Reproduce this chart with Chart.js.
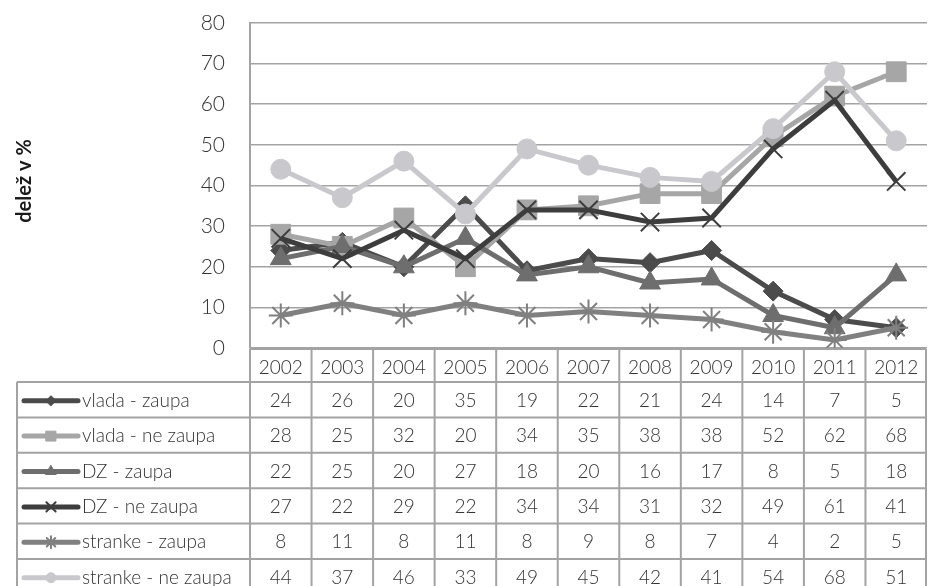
<!DOCTYPE html>
<html lang="sl">
<head>
    <meta charset="UTF-8">
    <title>Zaupanje v institucije 2002-2012</title>
    <script src="https://cdn.jsdelivr.net/npm/chart.js@4"></script>
    <style>
        body {
            margin: 0;
            background: #ffffff;
        }
        .wrap {
            width: 942px;
            height: 586px;
        }
    </style>
</head>
<body>
    <div class="wrap">
        <canvas id="trustChart" width="942" height="586"></canvas>
    </div>

    <script>
        // leta in vrednosti (delež v %)
        const years = ['2002', '2003', '2004', '2005', '2006', '2007', '2008', '2009', '2010', '2011', '2012'];

        const vladaZaupa     = [24, 26, 20, 35, 19, 22, 21, 24, 14, 7, 5];
        const vladaNeZaupa   = [28, 25, 32, 20, 34, 35, 38, 38, 52, 62, 68];
        const dzZaupa        = [22, 25, 20, 27, 18, 20, 16, 17, 8, 5, 18];
        const dzNeZaupa      = [27, 22, 29, 22, 34, 34, 31, 32, 49, 61, 41];
        const strankeZaupa   = [8, 11, 8, 11, 8, 9, 8, 7, 4, 2, 5];
        const strankeNeZaupa = [44, 37, 46, 33, 49, 45, 42, 41, 54, 68, 51];

        const yTicks = [0, 10, 20, 30, 40, 50, 60, 70, 80];

        const FONT = "'Lato', 'Open Sans', sans-serif";
        const GRID = '#a3a3a3';

        const series = [
            { label: 'vlada - zaupa',      data: vladaZaupa,     color: '#4b4b4b', style: 'rectRot',  r: 10, bw: 1 },
            { label: 'vlada - ne zaupa',   data: vladaNeZaupa,   color: '#a6a6a6', style: 'rect',     r: 14, bw: 1 },
            { label: 'DZ - zaupa',         data: dzZaupa,        color: '#6e6e6e', style: 'triangle', r: 12, bw: 1 },
            { label: 'DZ - ne zaupa',      data: dzNeZaupa,      color: '#3d3d3d', style: 'crossRot', r: 13, bw: 2 },
            { label: 'stranke - zaupa',    data: strankeZaupa,   color: '#808080', style: 'star',     r: 12, bw: 2 },
            { label: 'stranke - ne zaupa', data: strankeNeZaupa, color: '#c9c9cd', style: 'circle',   r: 10, bw: 1 }
        ];

        // tabela s podatki pod grafom + naslov osi y
        const dataTable = {
            id: 'dataTable',
            afterDraw(chart) {
                const ctx = chart.ctx;
                const area = chart.chartArea;
                const x = chart.scales.x;
                const step = x.getPixelForValue(1) - x.getPixelForValue(0);
                const tLeft = 17;
                const top = area.bottom + 1;
                const headH = 33;
                const rowH = 35.4;
                const right = area.right - 1;
                const nRows = series.length;
                const bottom = top + headH + nRows * rowH;

                ctx.save();
                ctx.strokeStyle = GRID;
                ctx.lineWidth = 2;

                // vodoravne črte
                ctx.beginPath();
                ctx.moveTo(area.left, top);
                ctx.lineTo(right, top);
                for (let i = 0; i <= nRows; i++) {
                    const y = top + headH + i * rowH;
                    ctx.moveTo(tLeft, y);
                    ctx.lineTo(right, y);
                }
                // navpične črte
                ctx.moveTo(tLeft, top + headH);
                ctx.lineTo(tLeft, bottom);
                for (let i = 0; i <= years.length; i++) {
                    const cx = Math.min(x.getPixelForValue(i) - step / 2, right);
                    ctx.moveTo(cx, top);
                    ctx.lineTo(cx, bottom);
                }
                ctx.stroke();

                ctx.fillStyle = '#333333';
                ctx.font = '300 19px ' + FONT;
                ctx.textAlign = 'center';
                ctx.textBaseline = 'middle';
                years.forEach((yr, i) => {
                    ctx.fillText(yr, x.getPixelForValue(i), top + headH / 2 + 2);
                });

                series.forEach((s, r) => {
                    const cy = top + headH + r * rowH + rowH / 2 + 1;
                    s.data.forEach((v, i) => {
                        ctx.fillText(String(v), x.getPixelForValue(i), cy);
                    });

                    // vzorec črte z oznako
                    ctx.strokeStyle = s.color;
                    ctx.lineWidth = 5;
                    ctx.lineCap = 'round';
                    ctx.beginPath();
                    ctx.moveTo(24, cy);
                    ctx.lineTo(78, cy);
                    ctx.stroke();
                    ctx.fillStyle = s.color;
                    ctx.lineWidth = s.bw;
                    Chart.helpers.drawPoint(ctx, { pointStyle: s.style, radius: s.r * 0.5, rotation: 0, borderWidth: s.bw }, 51, cy);

                    ctx.fillStyle = '#333333';
                    ctx.textAlign = 'left';
                    ctx.fillText(s.label, 82, cy);
                    ctx.textAlign = 'center';
                });

                // naslov osi
                ctx.translate(25, 181);
                ctx.rotate(-Math.PI / 2);
                ctx.font = 'bold 20px ' + FONT;
                ctx.fillStyle = '#1a1a1a';
                ctx.fillText('delež v %', 0, 0);
                ctx.restore();
            }
        };

        const ctx = document.getElementById('trustChart').getContext('2d');
        new Chart(ctx, {
            type: 'line',
            data: {
                labels: years,
                datasets: series.map((s, i) => ({
                    label: s.label,
                    data: s.data,
                    borderColor: s.color,
                    backgroundColor: s.color,
                    borderWidth: 5,
                    tension: 0,
                    pointStyle: s.style,
                    pointRadius: s.r,
                    pointBorderWidth: s.bw,
                    pointBackgroundColor: s.color,
                    pointBorderColor: s.color,
                    order: series.length - i
                }))
            },
            options: {
                responsive: false,
                animation: false,
                layout: {
                    padding: { top: 23, right: 0, left: 0, bottom: 238 }
                },
                plugins: {
                    legend: { display: false },
                    tooltip: { enabled: false }
                },
                scales: {
                    x: {
                        display: false,
                        offset: true
                    },
                    y: {
                        min: 0,
                        max: 80,
                        afterFit(scale) { scale.width = 250; },
                        afterBuildTicks(scale) { scale.ticks = yTicks.map(v => ({ value: v })); },
                        // nevidne oznake dajo razmik med številkami in osjo
                        grid: { color: GRID, lineWidth: 1.6, drawTicks: true, tickLength: 25, tickColor: 'rgba(0,0,0,0)' },
                        border: { color: GRID, width: 2 },
                        ticks: {
                            padding: 0,
                            color: '#333333',
                            font: { family: FONT, size: 21, weight: '300' }
                        }
                    }
                }
            },
            plugins: [dataTable]
        });
    </script>
</body>
</html>
